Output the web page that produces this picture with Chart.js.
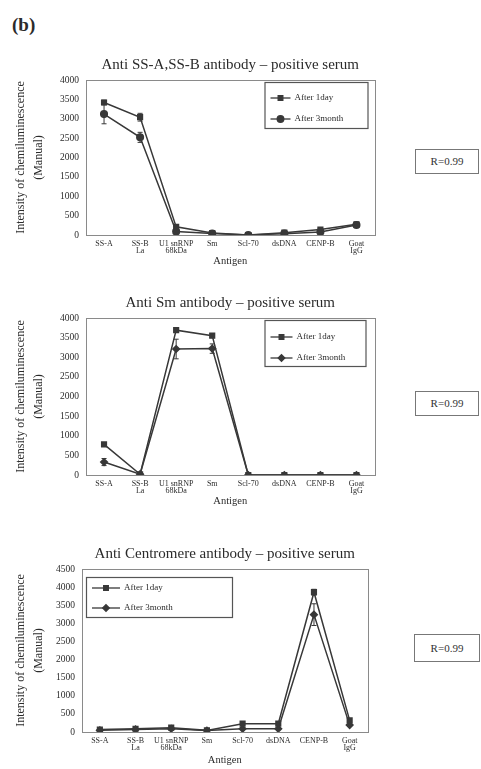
<!DOCTYPE html>
<html>
<head>
<meta charset="utf-8">
<script src="https://cdn.jsdelivr.net/npm/chart.js@4.4.1/dist/chart.umd.min.js"></script>
<style>
  body { margin: 0; background: #fff; width: 481px; height: 769px; position: relative; overflow: hidden;
         font-family: "Liberation Serif", "DejaVu Serif", serif; color: #2b2b2b; }
  canvas { position: absolute; left: 0; }
  .tag { position: absolute; left: 12px; top: 14px; font-size: 19px; font-weight: bold; }
  .rbox { position: absolute; border: 1px solid #777; font-size: 11px; text-align: center; background: #fff; color: #333; }
</style>
</head>
<body>
<div class="tag">(b)</div>
<canvas id="c1" width="380" height="218" style="top:52px"></canvas>
<canvas id="c2" width="380" height="220" style="top:290px"></canvas>
<canvas id="c3" width="373" height="228" style="top:541px"></canvas>
<div class="rbox" style="left:415px;top:149px;width:62px;height:23px;line-height:23px">R=0.99</div>
<div class="rbox" style="left:415px;top:391px;width:62px;height:23px;line-height:23px">R=0.99</div>
<div class="rbox" style="left:414px;top:634px;width:64px;height:26px;line-height:26px">R=0.99</div>
<script>
// shared categories
const antigens = [['SS-A'], ['SS-B', 'La'], ['U1 snRNP', '68kDa'], ['Sm'], ['Scl-70'], ['dsDNA'], ['CENP-B'], ['Goat', 'IgG']];
const seriesNames = ['After 1day', 'After 3month'];

// Anti SS-A,SS-B
const ssDay1 = [3420, 3040, 210, 50, 0, 60, 140, 275];
const ssMonth3 = [3120, 2520, 90, 40, 0, 35, 80, 260];
const ssDay1Err = [60, 100, 0, 0, 0, 0, 0, 0];
const ssMonth3Err = [250, 130, 0, 0, 0, 0, 0, 0];

// Anti Sm
const smDay1 = [780, 20, 3690, 3550, 0, 0, 0, 0];
const smMonth3 = [330, 20, 3210, 3220, 0, 0, 0, 0];
const smDay1Err = [0, 0, 0, 50, 0, 0, 0, 0];
const smMonth3Err = [90, 0, 250, 120, 0, 0, 0, 0];

// Anti Centromere
const cenDay1 = [70, 90, 120, 45, 230, 230, 3860, 320];
const cenMonth3 = [45, 70, 90, 40, 90, 90, 3240, 190];
const cenDay1Err = [0, 0, 0, 0, 0, 0, 80, 0];
const cenMonth3Err = [0, 0, 0, 0, 0, 0, 300, 0];

const FONT = '"Liberation Serif", "DejaVu Serif", serif';
const INK = '#2b2b2b';
const LINE = '#383838';

// box around plot + centred title + inside legend + error whiskers
const decor = {
  id: 'decor',
  afterDatasetsDraw(chart, args, opts) {
    const { ctx, chartArea: a } = chart;
    ctx.save();
    // error bars
    const ys = chart.scales.y;
    chart.data.datasets.forEach((ds, i) => {
      const meta = chart.getDatasetMeta(i);
      (ds.errors || []).forEach((e, j) => {
        if (!e) return;
        const x = meta.data[j].x;
        const y1 = ys.getPixelForValue(ds.data[j] + e);
        const y2 = ys.getPixelForValue(ds.data[j] - e);
        ctx.strokeStyle = LINE; ctx.lineWidth = 1;
        ctx.beginPath();
        ctx.moveTo(x, y1); ctx.lineTo(x, y2);
        ctx.moveTo(x - 2.5, y1); ctx.lineTo(x + 2.5, y1);
        ctx.moveTo(x - 2.5, y2); ctx.lineTo(x + 2.5, y2);
        ctx.stroke();
      });
    });
    // plot frame
    ctx.strokeStyle = '#8a8a8a'; ctx.lineWidth = 1;
    ctx.strokeRect(Math.round(a.left) + 0.5, Math.round(a.top) + 0.5, Math.round(a.right - a.left), Math.round(a.bottom - a.top));
    // title
    ctx.fillStyle = INK;
    ctx.font = opts.titleSize + 'px ' + FONT;
    ctx.textAlign = 'center'; ctx.textBaseline = 'middle';
    ctx.fillText(opts.title, (a.left + a.right) / 2, a.top - opts.titleGap);
    // legend
    const L = opts.legend;
    const bx = L.fromRight ? a.right - L.dx - L.w : a.left + L.dx;
    const by = a.top + L.dy;
    ctx.fillStyle = '#fff';
    ctx.fillRect(bx, by, L.w, L.h);
    ctx.strokeStyle = '#555'; ctx.lineWidth = 1.2;
    ctx.strokeRect(bx + 0.5, by + 0.5, L.w, L.h);
    chart.data.datasets.forEach((ds, i) => {
      const ry = by + L.rows[i];
      ctx.strokeStyle = ds.borderColor; ctx.fillStyle = ds.borderColor; ctx.lineWidth = 1.3;
      ctx.beginPath(); ctx.moveTo(bx + 6, ry); ctx.lineTo(bx + 6 + L.sample, ry); ctx.stroke();
      Chart.helpers.drawPoint(ctx, { pointStyle: ds.pointStyle, radius: ds.pointRadius, borderWidth: 1, rotation: 0 },
        bx + 6 + L.sample / 2, ry);
      ctx.fillStyle = INK;
      ctx.font = L.size + 'px ' + FONT;
      ctx.textAlign = 'left';
      ctx.fillText(ds.label, bx + 10 + L.sample, ry);
    });
    ctx.restore();
  }
};

function makeChart(id, title, d1, d2, e1, e2, yMax, axisW, axisH, legend, style2) {
  const ds = (label, data, errors, pstyle) => ({
    label, data, errors,
    borderColor: LINE, backgroundColor: LINE, borderWidth: 1.5,
    pointStyle: pstyle, pointRadius: 3.3, pointBackgroundColor: LINE, pointBorderColor: LINE,
    tension: 0
  });
  return new Chart(document.getElementById(id), {
    type: 'line',
    data: {
      labels: antigens,
      datasets: [ds(seriesNames[0], d1, e1, 'rect'), ds(seriesNames[1], d2, e2, style2)]
    },
    options: {
      responsive: false,
      animation: false,
      layout: { padding: { top: 28, right: 2, left: 0, bottom: 0 } },
      plugins: {
        legend: { display: false },
        tooltip: { enabled: false },
        decor: { title, titleSize: 15, titleGap: 15, legend }
      },
      scales: {
        x: {
          offset: true,
          grid: { display: false, drawTicks: false },
          border: { display: false },
          ticks: { color: INK, font: { family: FONT, size: 8, lineHeight: 0.95 }, padding: 5, maxRotation: 0, autoSkip: false },
          title: { display: true, text: 'Antigen', color: INK, font: { family: FONT, size: 10.5, lineHeight: 1.2 }, padding: { top: 0, bottom: 2 } },
          afterFit: s => { s.height = axisH; }
        },
        y: {
          min: 0, max: yMax,
          grid: { display: false, drawTicks: false },
          border: { display: false },
          ticks: { stepSize: 500, color: INK, font: { family: FONT, size: 9.5 }, padding: 7, callback: v => String(v) },
          title: { display: true, text: ['Intensity of chemiluminescence', '(Manual)'], color: INK,
                   font: { family: FONT, size: 12, lineHeight: 1.5 }, padding: { top: 12, bottom: 0 } },
          afterFit: s => { s.width = axisW; }
        }
      }
    },
    plugins: [decor]
  });
}

makeChart('c1', 'Anti SS-A,SS-B antibody \u2013 positive serum', ssDay1, ssMonth3, ssDay1Err, ssMonth3Err,
  4000, 86, 35, { fromRight: true, dx: 7, dy: 2, w: 103, h: 46, rows: [16, 37], sample: 20, size: 9 }, 'circle');
makeChart('c2', 'Anti Sm antibody \u2013 positive serum', smDay1, smMonth3, smDay1Err, smMonth3Err,
  4000, 86, 35, { fromRight: true, dx: 9, dy: 2, w: 101, h: 46, rows: [17, 38], sample: 22, size: 9 }, 'rectRot');
makeChart('c3', 'Anti Centromere antibody \u2013 positive serum', cenDay1, cenMonth3, cenDay1Err, cenMonth3Err,
  4500, 82, 37, { fromRight: false, dx: 4, dy: 8, w: 146, h: 40, rows: [11, 31], sample: 28, size: 9 }, 'rectRot');
</script>
</body>
</html>
